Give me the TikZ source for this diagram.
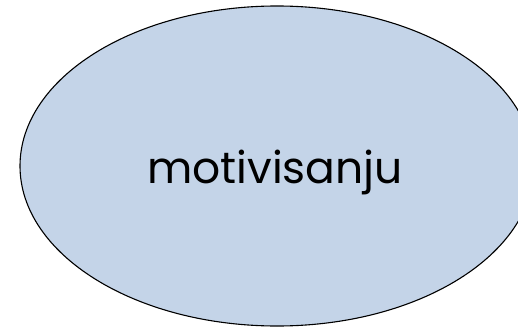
\documentclass[tikz,border=0pt]{standalone}
\usepackage{fontspec}
\setmainfont{Poppins}
\usetikzlibrary{shapes.geometric}
\definecolor{BubbleBlue}{RGB}{196, 212, 232}

\begin{document}
\begin{tikzpicture}[
    x=1pt, y=1pt,
    bubble/.style={draw=black, line width=1.1pt, fill=BubbleBlue, ellipse, inner sep=0pt, minimum width=514pt, minimum height=320pt},
    word/.style={font=\fontsize{44}{52}\selectfont, anchor=base, inner sep=0pt}
  ]
    \useasboundingbox (0,0) rectangle (518,327);
    \clip (0,0) rectangle (518,327);
    \node[bubble] (motiv) at (277,161) {};
    \node[word] (label) at (275,144) {motivisanju};
  \end{tikzpicture}
\end{document}
